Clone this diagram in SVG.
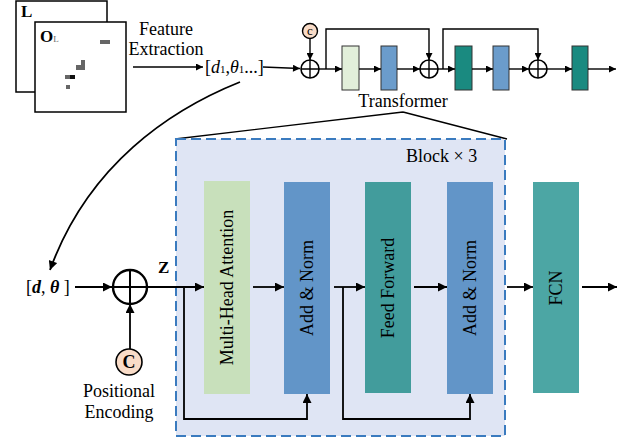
<svg xmlns="http://www.w3.org/2000/svg" width="628" height="443" viewBox="0 0 628 443">
<defs>
<style>
text{font-family:'Liberation Serif','Times New Roman','DejaVu Serif',serif;fill:#000}
.ln{stroke:#000;stroke-width:1.8;fill:none}
.lt{stroke:#000;stroke-width:1.4;fill:none}
.arr{marker-end:url(#ah)}
.arrs{marker-end:url(#ahs)}
.page{fill:#fff;stroke:#000;stroke-width:1.5}
.px{fill:#666}
.topbox{stroke:#333;stroke-width:1}
</style>
<marker id="ah" viewBox="0 0 10 10" refX="10" refY="5" markerWidth="10" markerHeight="9" markerUnits="userSpaceOnUse" orient="auto"><path d="M0,0 L10,5 L0,10 z" fill="#000"/></marker>
<marker id="ahs" viewBox="0 0 10 10" refX="10" refY="5" markerWidth="8" markerHeight="7" markerUnits="userSpaceOnUse" orient="auto"><path d="M0,0 L10,5 L0,10 z" fill="#000"/></marker>
</defs>
<rect width="628" height="443" fill="#fff"/>

<g id="input-image">
<rect class="page" x="16" y="1" width="91" height="91"/>
<text x="21" y="17" font-size="17" font-weight="bold">L</text>
<rect class="page" x="35" y="22" width="91" height="90"/>
<text x="40" y="42" font-size="17" font-weight="bold">O<tspan font-size="9" font-weight="normal" style="fill:#666">L</tspan></text>
<rect class="px" x="100" y="40" width="5" height="4"/>
<rect class="px" x="105" y="40" width="5" height="4"/>
<rect class="px" x="81" y="60" width="4" height="5"/>
<rect class="px" x="76" y="65" width="5" height="5"/>
<rect class="px" x="81" y="65" width="4" height="5"/>
<rect class="px" x="65" y="75" width="5" height="4"/>
<rect fill="#111" x="70" y="75" width="5" height="4"/>
<rect class="px" x="66" y="85" width="4" height="4"/>
</g>

<g id="feature-label">
<text x="166" y="35" font-size="18" text-anchor="middle">Feature</text>
<text x="166" y="55" font-size="18" text-anchor="middle">Extraction</text>
</g>

<g id="features">
<text x="205" y="73" font-size="18">[<tspan font-style="italic">d</tspan><tspan font-size="11">1</tspan>,<tspan font-style="italic">θ</tspan><tspan font-size="11">1</tspan>...]</text>
</g>

<g id="top-pe">
<circle cx="310" cy="31" r="7.5" fill="#f9dcc8" stroke="#000" stroke-width="1.4"/>
<text x="310" y="35" font-size="13" text-anchor="middle">c</text>
</g>
<g id="top-add1">
<circle cx="310" cy="69" r="9" fill="#fff" stroke="#000" stroke-width="1.6"/>
<path d="M301,69 H319 M310,60 V78" stroke="#000" stroke-width="1.4"/>
</g>
<g id="top-mha"><rect class="topbox" x="342" y="46" width="17" height="44" fill="#e2efda"/></g>
<g id="top-norm1"><rect class="topbox" x="381" y="46" width="16" height="44" fill="#6b9ccb"/></g>
<g id="top-add2">
<circle cx="429" cy="69" r="9" fill="#fff" stroke="#000" stroke-width="1.6"/>
<path d="M420,69 H438 M429,60 V78" stroke="#000" stroke-width="1.4"/>
</g>
<g id="top-ff"><rect class="topbox" x="455" y="46" width="17" height="44" fill="#1a8a80"/></g>
<g id="top-norm2"><rect class="topbox" x="493" y="46" width="16" height="44" fill="#6b9ccb"/></g>
<g id="top-add3">
<circle cx="538" cy="69" r="9" fill="#fff" stroke="#000" stroke-width="1.6"/>
<path d="M529,69 H547 M538,60 V78" stroke="#000" stroke-width="1.4"/>
</g>
<g id="top-fcn"><rect class="topbox" x="572" y="46" width="16" height="44" fill="#1a8a80"/></g>
<g id="transformer-label">
<text x="403" y="107" font-size="18" text-anchor="middle">Transformer</text>
</g>

<g id="block">
<path d="M403,112 L175,139 M403,112 L507,139" stroke="#000" stroke-width="1.4" fill="none"/>
<rect x="176" y="139" width="329" height="297" fill="#dfe5f4" stroke="#3a7bbf" stroke-width="2" stroke-dasharray="10,5"/>
<text x="406" y="162" font-size="18">Block × 3</text>
</g>

<g id="mha">
<rect x="204" y="181" width="46" height="213" fill="#c8e0bb"/>
<text transform="translate(233,287.5) rotate(-90)" font-size="18" text-anchor="middle">Multi-Head Attention</text>
</g>
<g id="addnorm1">
<rect x="284" y="182" width="46" height="212" fill="#6295c8"/>
<text transform="translate(313,288) rotate(-90)" font-size="18" text-anchor="middle">Add &amp; Norm</text>
</g>
<g id="feedforward">
<rect x="365" y="182" width="46" height="211" fill="#429c9c"/>
<text transform="translate(394,288) rotate(-90)" font-size="18" text-anchor="middle">Feed Forward</text>
</g>
<g id="addnorm2">
<rect x="447" y="182" width="46" height="212" fill="#6295c8"/>
<text transform="translate(476,288) rotate(-90)" font-size="18" text-anchor="middle">Add &amp; Norm</text>
</g>
<g id="fcn">
<rect x="533" y="182" width="46" height="211" fill="#4ca6a4"/>
<text transform="translate(562,288) rotate(-90)" font-size="18" text-anchor="middle">FCN</text>
</g>

<g id="input-vec">
<text x="26" y="293" font-size="18">[<tspan font-weight="bold" font-style="italic">d</tspan>, <tspan font-weight="bold" font-style="italic">θ</tspan> ]</text>
</g>
<g id="add-main">
<circle cx="130" cy="287" r="17" fill="#fff" stroke="#000" stroke-width="2.4"/>
<path d="M113,287 H147 M130,270 V304" stroke="#000" stroke-width="2"/>
</g>
<g id="z-label"><text x="158" y="273" font-size="17" font-weight="bold">Z</text></g>
<g id="pos-enc">
<circle cx="129" cy="362" r="13" fill="#f9dcc8" stroke="#000" stroke-width="1.6"/>
<text x="129" y="368" font-size="18" font-weight="bold" text-anchor="middle">C</text>
<text x="119" y="397" font-size="18" text-anchor="middle">Positional</text>
<text x="119" y="418" font-size="18" text-anchor="middle">Encoding</text>
</g>

<g id="connectors">
<line class="lt arrs" x1="133" y1="67" x2="203" y2="67"/>
<line class="lt arrs" x1="263" y1="67" x2="300" y2="68.5"/>
<line class="lt arrs" x1="310" y1="38.5" x2="310" y2="60"/>
<line class="lt arrs" x1="319" y1="69" x2="342" y2="69"/>
<path class="lt arrs" d="M326,69 V29 H429 V60"/>
<line class="lt arrs" x1="359" y1="69" x2="381" y2="69"/>
<line class="lt arrs" x1="397" y1="69" x2="420" y2="69"/>
<line class="lt arrs" x1="438" y1="69" x2="455" y2="69"/>
<path class="lt arrs" d="M443,69 V29 H538 V60"/>
<line class="lt arrs" x1="472" y1="69" x2="493" y2="69"/>
<line class="lt arrs" x1="509" y1="69" x2="529" y2="69"/>
<line class="lt arrs" x1="547" y1="69" x2="572" y2="69"/>
<line class="lt arrs" x1="588" y1="69" x2="616" y2="69"/>

<path class="ln arr" d="M240,82 C170,110 88,165 50,270"/>
<line class="ln arr" x1="75" y1="287" x2="112" y2="287"/>
<line class="ln arr" x1="130" y1="349" x2="130" y2="304"/>
<line class="ln arr" x1="147" y1="287" x2="204" y2="287"/>
<path class="ln arr" d="M184,287 V419 H307 V394"/>
<line class="ln arr" x1="253" y1="287" x2="284" y2="287"/>
<line class="ln arr" x1="334" y1="287" x2="365" y2="287"/>
<path class="ln arr" d="M343,287 V419 H470 V394"/>
<line class="ln arr" x1="414" y1="287" x2="447" y2="287"/>
<line class="ln arr" x1="507" y1="287" x2="533" y2="287"/>
<line class="ln arr" x1="582" y1="287" x2="617" y2="287"/>
</g>
</svg>
